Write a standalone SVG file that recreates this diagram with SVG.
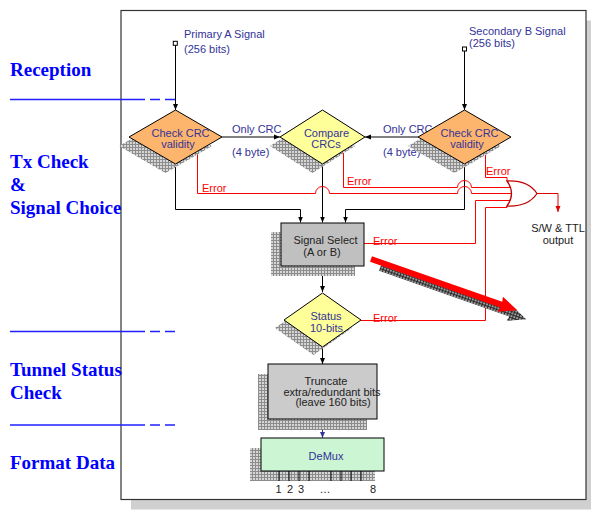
<svg xmlns="http://www.w3.org/2000/svg" width="591" height="510" viewBox="0 0 591 510">
<style>
.lbl{font-family:"Liberation Serif","Times New Roman",serif;font-weight:bold;font-size:19px;fill:#0000ff}
.sep{stroke:#2020ff;stroke-width:1.5;fill:none}
.t{font-family:"Liberation Sans",Arial,sans-serif;font-size:11px}
.blue{fill:#333399}
.dark{fill:#222}
.red{fill:#ff0000}
.k{stroke:#000;stroke-width:1;fill:none}
.r{stroke:#ff0000;stroke-width:1;fill:none}
.node{stroke:#000;stroke-width:1}
</style>
<defs>
<pattern id="hatch" width="3" height="3" patternUnits="userSpaceOnUse"><rect width="3" height="3" fill="#d6d6d6"/><path d="M0,0.5H3M0.5,0V3" stroke="#8c8c8c" stroke-width="1"/></pattern>
<pattern id="hatchD" width="3" height="3" patternUnits="userSpaceOnUse"><rect width="3" height="3" fill="#9a9a9a"/><path d="M0,0.5H3M0.5,0V3" stroke="#2a2a2a" stroke-width="1"/></pattern>
<marker id="ah" viewBox="0 0 6 6" refX="6" refY="3" markerWidth="6" markerHeight="6" markerUnits="userSpaceOnUse" orient="auto"><path d="M0,0.5L6,3L0,5.5Z" fill="#000"/></marker>
<marker id="ahb" viewBox="0 0 6 6" refX="6" refY="3" markerWidth="6" markerHeight="6" markerUnits="userSpaceOnUse" orient="auto"><path d="M0,0.5L6,3L0,5.5Z" fill="#333399"/></marker>
<marker id="ahr" viewBox="0 0 6 6" refX="6" refY="3" markerWidth="6" markerHeight="6" markerUnits="userSpaceOnUse" orient="auto"><path d="M0,0.5L6,3L0,5.5Z" fill="#e00000"/></marker>
</defs>
<rect x="0" y="0" width="591" height="510" fill="#fff"/>
<g id="frame">
<rect x="131" y="20.5" width="465" height="489" fill="#d0d0d0"/>
<rect x="121" y="10.5" width="465" height="489" fill="#fff" stroke="#333" stroke-width="1.2"/>
</g>
<g id="lanes">
<text class="lbl" x="10" y="76">Reception</text>
<text class="lbl" x="10" y="168">Tx Check</text>
<text class="lbl" x="10" y="191">&amp;</text>
<text class="lbl" x="10" y="214">Signal Choice</text>
<text class="lbl" x="10" y="376">Tunnel Status</text>
<text class="lbl" x="10" y="399">Check</text>
<text class="lbl" x="10" y="469">Format Data</text>
<path class="sep" d="M10,99.5H145M150,99.5H160M165,99.5H175"/>
<path class="sep" d="M10,331.5H145M150,331.5H160M165,331.5H175"/>
<path class="sep" d="M10,425H145M150,425H160M165,425H175"/>
</g>
<g id="connectors">
<rect x="173.3" y="41.3" width="4" height="4" fill="#fff" stroke="#000" stroke-width="1"/>
<text class="t blue" x="184" y="38">Primary A Signal</text>
<text class="t blue" x="184" y="52.5">(256 bits)</text>
<path class="k" d="M175.5,45.3V110" marker-end="url(#ah)"/>
<rect x="462.5" y="47" width="4" height="4" fill="#fff" stroke="#000" stroke-width="1"/>
<text class="t blue" x="469" y="35">Secondary B Signal</text>
<text class="t blue" x="469" y="47">(256 bits)</text>
<path class="k" d="M464.5,51V110" marker-end="url(#ah)"/>
<path class="k" d="M222,137H280" marker-end="url(#ah)"/>
<path class="k" d="M418,137H365" marker-end="url(#ah)"/>
<text class="t blue" x="232" y="133">Only CRC</text>
<text class="t blue" x="232" y="156">(4 byte)</text>
<text class="t blue" x="383" y="133">Only CRC</text>
<text class="t blue" x="383" y="156">(4 byte)</text>
<path class="k" d="M175.5,164V209.5H300.5V222.5" marker-end="url(#ah)"/>
<path class="k" d="M322.5,164V222.5" marker-end="url(#ah)"/>
<path class="k" d="M464.5,164V209.5H345.5V222.5" marker-end="url(#ah)"/>
<path class="k" d="M322.5,266V292" marker-end="url(#ah)"/>
<path class="k" d="M322.5,347V364" marker-end="url(#ah)"/>
<path d="M322.5,419V438" stroke="#333399" stroke-width="1" fill="none" marker-end="url(#ahb)"/>
<path class="r" d="M197.5,149.5V193.5H315.5A7,7 0 0 1 329.5,193.5H457.5A7,7 0 0 1 471.5,193.5H511"/>
<path class="r" d="M343.5,150V187.5H457.5A7,7 0 0 1 471.5,187.5H511"/>
<path class="r" d="M485.5,149V177.5H507V181"/>
<path class="r" d="M364,243.5H475.5V200.5H512"/>
<path class="r" d="M361,320.5H485.5V207.5H507V206"/>
<text class="t red" x="202" y="192">Error</text>
<text class="t red" x="347" y="185">Error</text>
<text class="t red" x="486" y="175">Error</text>
<text class="t red" x="373" y="245">Error</text>
<text class="t red" x="373" y="322">Error</text>
<path d="M507,181Q528,180 537,193.5Q528,207 507,206Q516,193.5 507,181Z" fill="#fff" stroke="#c00000" stroke-width="1.3"/>
<path d="M537,193.5H558V212" stroke="#e00000" stroke-width="1" fill="none" marker-end="url(#ahr)"/>
<text class="t dark" x="558" y="232" text-anchor="middle">S/W &amp; TTL</text>
<text class="t dark" x="558" y="244" text-anchor="middle">output</text>
<g transform="translate(380,268) rotate(19.3)"><polygon points="0,-3 138,-3 137,-8 155,0 137,8 138,3 0,3" fill="url(#hatchD)"/></g>
<g transform="translate(371,259) rotate(19.3)"><polygon points="0,-3 138,-3 137,-8 155,0 137,8 138,3 0,3" fill="#ff0000"/></g>
</g>
<g id="checkA">
<polygon points="165.5,119 212,146 165.5,173 119,146" fill="url(#hatch)"/>
<polygon class="node" points="175.5,110 222,137 175.5,164 129,137" fill="#fdb46c"/>
<text class="t blue" x="180.5" y="137" text-anchor="middle">Check CRC</text>
<text class="t blue" x="178" y="148" text-anchor="middle">validity</text>
</g>
<g id="compare">
<polygon points="312.5,119 355,146 312.5,173 270,146" fill="url(#hatch)"/>
<polygon class="node" points="322.5,110 365,137 322.5,164 280,137" fill="#ffff99"/>
<text class="t blue" x="326.5" y="137" text-anchor="middle">Compare</text>
<text class="t blue" x="326" y="148" text-anchor="middle">CRCs</text>
</g>
<g id="checkB">
<polygon points="454.5,119 501,146 454.5,173 408,146" fill="url(#hatch)"/>
<polygon class="node" points="464.5,110 511,137 464.5,164 418,137" fill="#fdb46c"/>
<text class="t blue" x="469.5" y="137" text-anchor="middle">Check CRC</text>
<text class="t blue" x="467" y="148" text-anchor="middle">validity</text>
</g>
<g id="select">
<rect x="271" y="232" width="84" height="44" fill="url(#hatch)"/>
<rect class="node" x="281" y="223" width="83" height="43" fill="#c0c0c0"/>
<text class="t dark" x="325.5" y="244" text-anchor="middle">Signal Select</text>
<text class="t dark" x="322" y="256" text-anchor="middle">(A or B)</text>
</g>
<g id="status">
<polygon points="313.5,301 352,328 313.5,355 275,328" fill="url(#hatch)"/>
<polygon class="node" points="322.5,293 361,320 322.5,347 284,320" fill="#ffff99"/>
<text class="t blue" x="326" y="320" text-anchor="middle">Status</text>
<text class="t blue" x="326.5" y="332" text-anchor="middle">10-bits</text>
</g>
<g id="truncate">
<rect x="258" y="374" width="109" height="56" fill="url(#hatch)"/>
<rect class="node" x="268" y="364" width="109" height="55" fill="#cbcbcb"/>
<text class="t dark" x="326" y="385" text-anchor="middle" font-size="10.5">Truncate</text>
<text class="t dark" x="332" y="395.5" text-anchor="middle" font-size="10.5">extra/redundant bits</text>
<text class="t dark" x="333" y="406" text-anchor="middle" font-size="10.5">(leave 160 bits)</text>
</g>
<g id="demux">
<rect x="250" y="448" width="125" height="33" fill="url(#hatch)"/>
<rect class="node" x="261" y="438" width="123" height="33" fill="#ccf5d4"/>
<text class="t blue" x="326" y="460" text-anchor="middle">DeMux</text>
<path class="k" d="M279,471V481M289,471V481M299,471V481M309,471V481M331,471V481M341,471V481M351,471V481M361,471V481"/>
<text class="t dark" x="278.5" y="493" text-anchor="middle">1</text>
<text class="t dark" x="290" y="493" text-anchor="middle">2</text>
<text class="t dark" x="301" y="493" text-anchor="middle">3</text>
<text class="t dark" x="325" y="493" text-anchor="middle">…</text>
<text class="t dark" x="373" y="493" text-anchor="middle">8</text>
</g>
</svg>
